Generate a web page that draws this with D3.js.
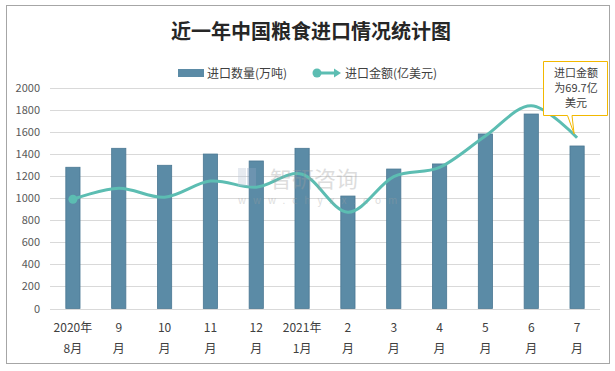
<!DOCTYPE html>
<meta charset="utf-8">
<script src="https://d3js.org/d3.v7.min.js"></script>
<style>
    body { margin: 0; background: #fff; }
    svg text { font-family: "Noto Sans CJK SC", "Noto Sans", sans-serif; }
</style>
<div id="chart"></div>
<script>
    var width = 615;
    var height = 371;

    // data
    var months = ["2020年\n8月", "9\n月", "10\n月", "11\n月", "12\n月", "2021年\n1月",
        "2\n月", "3\n月", "4\n月", "5\n月", "6\n月", "7\n月"];
    var volume = [1281, 1453, 1299, 1401, 1338, 1453, 1020, 1265, 1311, 1583, 1764, 1474];   // 万吨
    var amount = [44.6, 49.1, 45.4, 52.0, 49.5, 54.8, 39.3, 53.8, 57.6, 70.4, 82.8, 69.7];   // 亿美元
    var yTicks = [0, 200, 400, 600, 800, 1000, 1200, 1400, 1600, 1800, 2000];

    var svg = d3.select('#chart').append('svg')
        .attr('width', width)
        .attr('height', height);

    // outer frame
    svg.append('rect')
        .attr('x', 6.5).attr('y', 5.5)
        .attr('width', 603).attr('height', 358)
        .attr('fill', '#fff')
        .attr('stroke', '#a6a6a6');

    var x = d3.scaleBand()
        .domain(d3.range(months.length))
        .range([50, 600])
        .paddingInner(0.69)
        .paddingOuter(0.345);

    var y = d3.scaleLinear().domain([0, 2000]).range([308.5, 88]);
    var y2 = d3.scaleLinear().domain([0, 90]).range([308.5, 88]);   // hidden secondary axis

    // grid
    svg.append('g')
        .selectAll('line')
        .data(yTicks)
        .join('line')
        .attr('x1', 50).attr('x2', 600)
        .attr('y1', d => Math.round(y(d)) + 0.5)
        .attr('y2', d => Math.round(y(d)) + 0.5)
        .attr('stroke', '#d9d9d9');

    // y axis labels
    var yAxis = svg.append('g')
        .attr('transform', 'translate(40,0)')
        .call(d3.axisLeft(y).tickValues(yTicks).tickFormat(d3.format('d')).tickSize(0).tickPadding(0));
    yAxis.select('.domain').remove();
    yAxis.selectAll('text')
        .attr('fill', '#595959')
        .style('font-size', '11px');

    // bars
    svg.append('g')
        .selectAll('rect')
        .data(volume)
        .join('rect')
        .attr('x', (d, i) => x(i))
        .attr('y', d => y(d))
        .attr('width', x.bandwidth())
        .attr('height', d => y(0) - y(d))
        .attr('fill', '#5b8ba6')
        .attr('stroke', '#4b7893')
        .attr('stroke-width', 0.8);

    // smoothed line
    var cx = i => x(i) + x.bandwidth() / 2;
    var line = d3.line()
        .x((d, i) => cx(i))
        .y(d => y2(d))
        .curve(d3.curveCatmullRom.alpha(0));

    svg.append('path')
        .datum(amount)
        .attr('d', line)
        .attr('fill', 'none')
        .attr('stroke', '#5cbdb2')
        .attr('stroke-width', 3);

    svg.append('circle')
        .attr('cx', cx(0))
        .attr('cy', y2(amount[0]))
        .attr('r', 4.5)
        .attr('fill', '#5cbdb2');

    // watermark (semi-transparent, on top)
    var wm = svg.append('g').attr('opacity', 0.35);
    wm.append('rect').attr('x', 238).attr('y', 168).attr('width', 8).attr('height', 18).attr('fill', '#b8c4d6');
    wm.append('rect').attr('x', 247).attr('y', 168).attr('width', 9).attr('height', 18).attr('fill', '#8fa6c4');
    wm.append('text').attr('x', 270).attr('y', 187)
        .style('font-size', '22px').attr('fill', '#a0a0a0').text('智研咨询');
    wm.append('text').attr('x', 238).attr('y', 204)
        .style('font-size', '10px').attr('fill', '#a0a0a0')
        .style('letter-spacing', '7px').text('www.chyxx.com');

    // x labels
    var xl = svg.append('g')
        .selectAll('text')
        .data(months)
        .join('text')
        .attr('x', (d, i) => cx(i))
        .attr('text-anchor', 'middle')
        .attr('fill', '#404040')
        .style('font-size', '12px');
    xl.selectAll('tspan')
        .data(d => d.split('\n'))
        .join('tspan')
        .attr('x', function () { return this.parentNode.getAttribute('x'); })
        .attr('y', (d, j) => 332 + j * 21)
        .text(d => d);

    // title
    svg.append('text')
        .attr('x', 311).attr('y', 39)
        .attr('text-anchor', 'middle')
        .attr('fill', '#262626')
        .style('font-size', '20px')
        .style('font-weight', 'bold')
        .text('近一年中国粮食进口情况统计图');

    // legend
    var lg = svg.append('g');
    lg.append('rect').attr('x', 178).attr('y', 69).attr('width', 26).attr('height', 8)
        .attr('fill', '#5b8ba6');
    lg.append('text').attr('x', 207).attr('y', 77.5).attr('fill', '#404040')
        .style('font-size', '12px').text('进口数量(万吨)');
    lg.append('line').attr('x1', 317).attr('x2', 336).attr('y1', 73).attr('y2', 73)
        .attr('stroke', '#5cbdb2').attr('stroke-width', 3);
    lg.append('path').attr('d', 'M334,68.5L341,73L334,77.5Z').attr('fill', '#5cbdb2');
    lg.append('circle').attr('cx', 317).attr('cy', 73).attr('r', 4.5).attr('fill', '#5cbdb2');
    lg.append('text').attr('x', 345).attr('y', 77.5).attr('fill', '#404040')
        .style('font-size', '12px').text('进口金额(亿美元)');

    // callout
    var last = amount.length - 1;
    var tipX = cx(last) - 3, tipY = y2(amount[last]) - 4;
    var co = svg.append('g');
    co.append('path')
        .attr('d', `M543.5,61.5H607.5V115.5H572L${tipX},${tipY}L567.5,115.5H543.5Z`)
        .attr('fill', '#fff')
        .attr('stroke', '#f2b800')
        .attr('stroke-width', 1);
    co.append('text')
        .attr('text-anchor', 'middle')
        .attr('fill', '#404040')
        .style('font-size', '11px')
        .selectAll('tspan')
        .data(['进口金额', '为' + amount[last] + '亿', '美元'])
        .join('tspan')
        .attr('x', 576)
        .attr('y', (d, j) => 77 + j * 15)
        .text(d => d);
</script>
